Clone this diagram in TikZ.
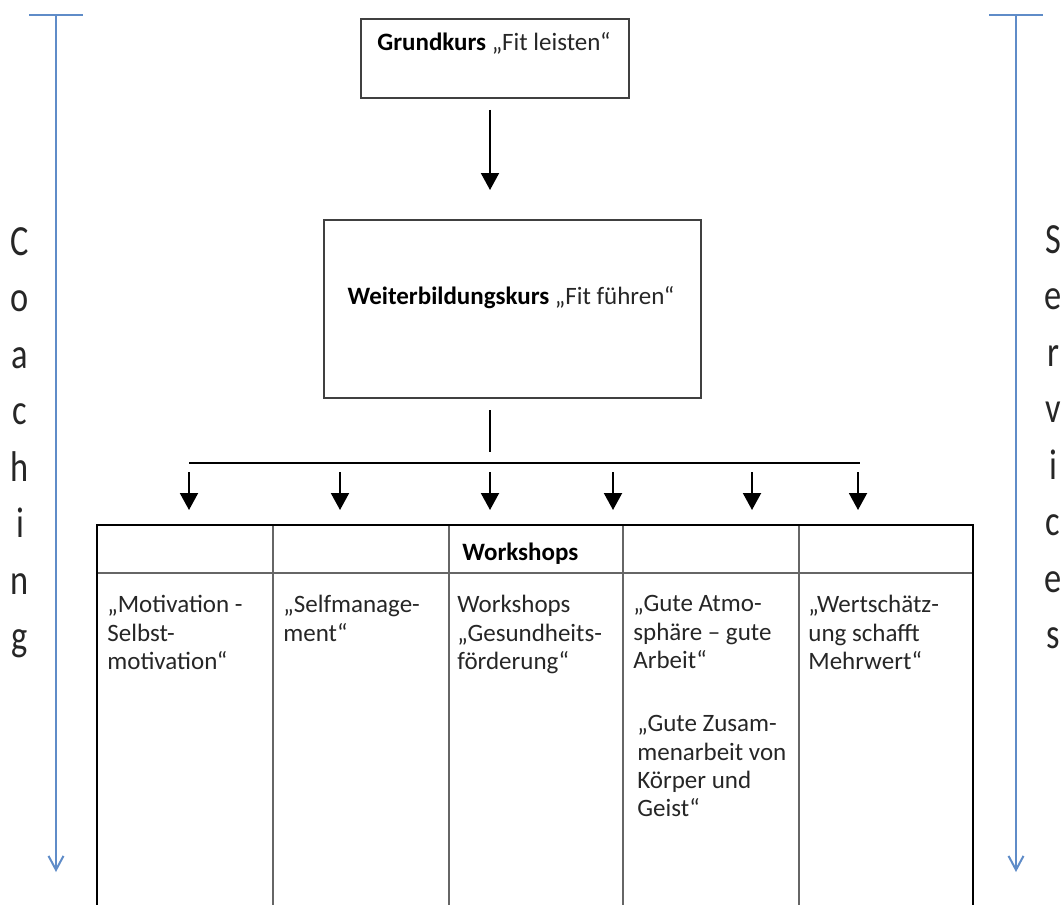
\documentclass[tikz,border=0pt]{standalone}
\usepackage{fontspec}
\setmainfont{Carlito}
\newfontfamily\sidefont[FakeStretch=0.8]{Carlito}
\usetikzlibrary{positioning,arrows.meta}
\definecolor{barblue}{RGB}{95,140,200}

\begin{document}
\begin{tikzpicture}[x=0.5pt,y=-0.5pt,
  box/.style={draw=black!75, line width=0.75pt, inner sep=0pt},
  flow/.style={line width=1pt, -{Triangle[length=8.5pt,width=9pt]}},
  side/.style={draw=barblue, line width=1pt,
    {Bar[width=27pt]}-{Straight Barb[length=7pt,width=7.5pt]}},
  sidetext/.style={anchor=north, inner sep=0pt, align=center, text=black!85,
    font=\sidefont\fontsize{21.5}{28.25}\selectfont},
  celltext/.style={anchor=north west, inner sep=0pt, align=left,
    text=black!85, font=\fontsize{12.5}{14.2}\selectfont},
  headtext/.style={inner sep=0pt, font=\fontsize{12.5}{14.2}\selectfont},
  outer/.style={line width=1.4pt},
  inner/.style={draw=black!60, line width=0.8pt}]
  \useasboundingbox (0,0) rectangle (1064,904);

  % side bars
  \coordinate (ctop) at (56,14);
  \coordinate (cbot) at (56,872);
  \coordinate (stop) at (1016,14);
  \coordinate (sbot) at (1016,872);
  \draw[side] (ctop) -- (cbot);
  \draw[side] (stop) -- (sbot);
  \node[sidetext] (coaching) at (20,227) {C\\o\\a\\c\\h\\i\\n\\g};
  \node[sidetext] (services) at (1053,225) {S\\e\\r\\v\\i\\c\\e\\s};

  % courses
  \node[box, minimum width=134pt, minimum height=39.5pt] (grund) at (495,58.5) {};
  \node[headtext] (grundtxt) at (494,43) {\textbf{Grundkurs} {\color{black!85}„Fit leisten“}};
  \node[box, minimum width=188.5pt, minimum height=89pt] (weiter) at (512.5,309) {};
  \node[headtext] (weitertxt) at (511,298) {\textbf{Weiterbildungskurs} {\color{black!85}„Fit führen“}};

  \coordinate (g1) at (490,110);
  \coordinate (g2) at (490,190);
  \draw[flow] (g1) -- (g2);

  % split to workshops
  \coordinate (w1) at (490,410);
  \coordinate (w2) at (490,452);
  \coordinate (hl) at (189,463);
  \coordinate (hr) at (860,463);
  \draw[line width=1pt] (w1) -- (w2);
  \draw[line width=1pt] (hl) -- (hr);
  \foreach \x [count=\i] in {189,340,490,613,752,858}{
    \coordinate (t\i) at (\x,472);
    \coordinate (b\i) at (\x,510);
    \draw[flow] (t\i) -- (b\i);
  }

  % table
  \draw[inner] (97,573) -- (973,573);
  \foreach \x in {273,449,623,799}
    \draw[inner] (\x,525) -- (\x,906);
  \draw[outer] (97,906) -- (97,525) -- (973,525) -- (973,906);
  \node[headtext, anchor=west] (head) at (462,554) {\textbf{Workshops}};

  \node[celltext] (mot) at (107,595) {„Motivation -\\Selbst-\\motivation“};
  \node[celltext] (self) at (283,595) {„Selfmanage-\\ment“};
  \node[celltext] (gesund) at (457,595) {Workshops\\„Gesundheits-\\förderung“};
  \node[celltext] (atmo) at (633,595) {„Gute Atmo-\\sphäre – gute\\Arbeit“};
  \node[celltext] (zusam) at (637,715) {„Gute Zusam-\\menarbeit von\\Körper und\\Geist“};
  \node[celltext] (wert) at (808,595) {„Wertschätz-\\ung schafft\\Mehrwert“};
\end{tikzpicture}
\end{document}
